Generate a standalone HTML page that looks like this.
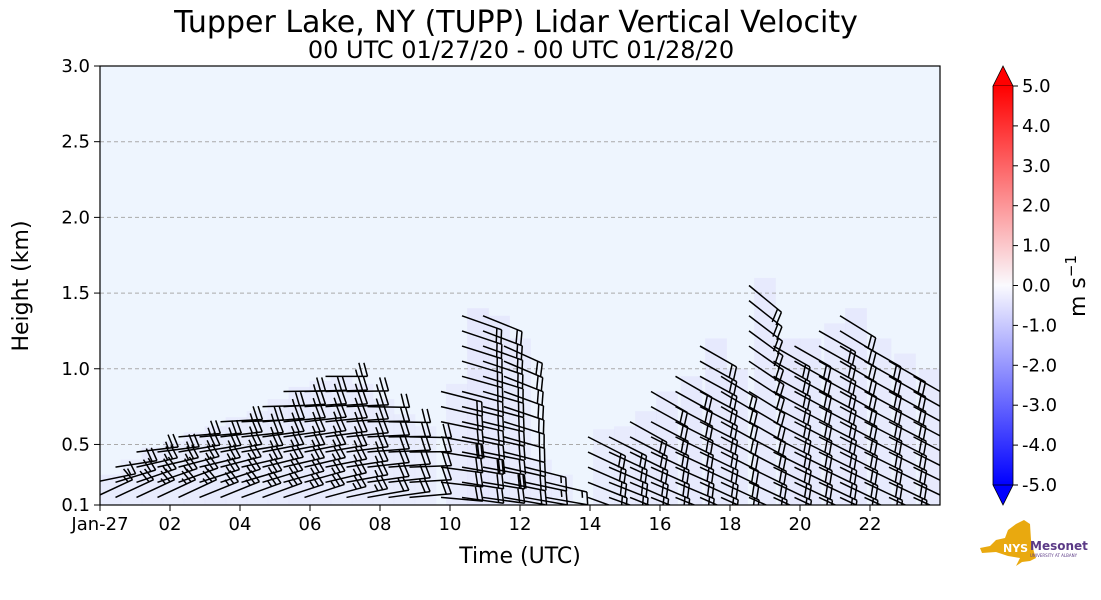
<!DOCTYPE html>
<html><head><meta charset="utf-8">
<style>
body{margin:0;background:#fff;}
svg{display:block;font-family:"DejaVu Sans","Liberation Sans",sans-serif;}
</style></head>
<body>
<svg id="chart" width="1101" height="600" viewBox="0 0 1101 600" xmlns="http://www.w3.org/2000/svg">
<defs>
<linearGradient id="cbar" x1="0" y1="0" x2="0" y2="1">
<stop offset="0" stop-color="#ff0000"/><stop offset="0.5" stop-color="#fafafe"/><stop offset="1" stop-color="#0000ff"/>
</linearGradient>
<clipPath id="plotclip"><rect x="100" y="66" width="840" height="439"/></clipPath>
</defs>
<text x="516" y="32" font-size="30" text-anchor="middle">Tupper Lake, NY (TUPP) Lidar Vertical Velocity</text>
<text x="521" y="58" font-size="24" text-anchor="middle">00 UTC 01/27/20 - 00 UTC 01/28/20</text>
<rect x="100" y="66" width="840" height="439" fill="#eef5fe"/>
<g id="shade" clip-path="url(#plotclip)"></g>
<g id="grid"></g>
<g id="barbs" clip-path="url(#plotclip)"></g>
<rect x="100" y="66" width="840" height="439" fill="none" stroke="#000" stroke-width="1.2"/>
<g id="yaxis"></g>
<g id="xaxis"></g>
<text transform="translate(28,286) rotate(-90)" font-size="22" text-anchor="middle">Height (km)</text>
<text x="520" y="563" font-size="22" text-anchor="middle">Time (UTC)</text>
<g>
<polygon points="993,86 1003,66 1013,86" fill="#ff0000" stroke="#000" stroke-width="0.8"/>
<rect x="993" y="86" width="20" height="399" fill="url(#cbar)"/>
<polygon points="993,485 1003,505 1013,485" fill="#0000ff" stroke="#000" stroke-width="0.8"/>
<line x1="993" y1="86" x2="993" y2="485" stroke="#000" stroke-width="0.8"/>
<line x1="1013" y1="86" x2="1013" y2="485" stroke="#000" stroke-width="0.8"/>
<g id="cticks"></g>
<text transform="translate(1085,286) rotate(-90)" font-size="22" text-anchor="middle">m s<tspan dy="-9" font-size="15">−1</tspan></text>
</g>
<g>
<polygon points="980,548 990,546 996,540 1005,538 1008,530 1016,524 1024,520 1030,524 1031,540 1034,552 1036,558 1030,561 1022,562 1016,566 1020,558 1008,556 996,552 982,553" fill="#e9a90f"/>
<text x="1003" y="552" font-size="11" font-weight="bold" fill="#fff">NYS</text>
<text x="1030" y="550" font-size="12" font-weight="bold" fill="#5b3a86">Mesonet</text>
<text x="1030" y="557" font-size="4" fill="#5b3a86">UNIVERSITY AT ALBANY</text>
</g>
</svg>
<script>
// ---- data ----
const yTicks = [0.1, 0.5, 1.0, 1.5, 2.0, 2.5, 3.0];
const xTickHours = [0, 2, 4, 6, 8, 10, 12, 14, 16, 18, 20, 22];
const xTickLabels = ["Jan-27","02","04","06","08","10","12","14","16","18","20","22"];
const cbTicks = [5,4,3,2,1,0,-1,-2,-3,-4,-5];
// barb columns (hours UTC), top heights (km), staff angle low/high (deg screen), speed (kt)
const colTimes = [0.3,0.9,1.5,2.1,2.7,3.3,3.9,4.5,5.1,5.7,6.3,6.9,7.5,8.1,8.7,9.3,10.2,10.8,11.4,12.0,12.6,13.2,14.4,15.0,15.6,16.2,16.9,17.6,18.2,19.0,19.7,20.3,21.0,21.6,22.3,23.0,23.7];
const colTops  = [0.30,0.40,0.48,0.52,0.58,0.62,0.68,0.72,0.80,0.88,0.92,0.95,0.90,0.80,0.70,0.62,0.90,1.40,1.35,1.20,0.40,0.30,0.60,0.62,0.72,0.85,0.95,1.20,1.00,1.60,1.20,1.20,1.30,1.40,1.20,1.10,1.00];
const angLow   = [-25,-25,-25,-25,-25,-22,-22,-20,-20,-18,-18,-15,-12,-10,-8,-5,5,8,8,10,10,10,20,20,22,22,22,24,24,24,25,25,25,25,25,25,25];
const angHigh  = [-5,-5,-5,-3,-3,-2,-2,0,0,0,0,0,0,2,2,2,15,20,22,25,15,15,28,28,30,30,30,30,32,40,30,30,30,32,30,30,30];
const colSpeed = [15,20,25,25,25,25,25,25,25,25,25,25,25,20,20,20,20,20,20,20,15,15,20,20,20,20,20,20,20,20,20,20,20,20,20,20,20];
const colShade = [0.05,0.08,0.1,0.08,0.1,0.12,0.1,0.08,0.1,0.12,0.1,0.08,0.06,0.05,0.05,0.04,0.1,0.2,0.18,0.1,0.06,0.05,0.08,0.1,0.12,0.14,0.16,0.18,0.14,0.12,0.2,0.16,0.14,0.18,0.12,0.14,0.12];

// ---- axes ----
const X0=100, X1=940, Y0=505, Y1=66;
function xs(h){return X0 + h*(X1-X0)/24;}
function ys(k){return Y0 - (k-0.1)*(Y0-Y1)/2.9;}
const NS="http://www.w3.org/2000/svg";
function mk(tag, attrs, parent){const e=document.createElementNS(NS,tag);for(const k in attrs)e.setAttribute(k,attrs[k]);parent.appendChild(e);return e;}

const yax=document.getElementById('yaxis'), grid=document.getElementById('grid'), xax=document.getElementById('xaxis');
yTicks.forEach(v=>{
  const y=ys(v);
  mk('line',{x1:94,y1:y,x2:100,y2:y,stroke:'#000','stroke-width':1},yax);
  const t=mk('text',{x:90,y:y+6,'font-size':18,'text-anchor':'end'},yax);
  t.textContent=v.toFixed(1);
  
  
  if(v>0.1 && v<3.0){
    const g=mk('line',{x1:100,y1:y,x2:940,y2:y,stroke:'#aaa','stroke-width':1,'stroke-dasharray':'4,3'},grid);
    
    
  }
});
xTickHours.forEach((h,i)=>{
  const x=xs(h);
  mk('line',{x1:x,y1:505,x2:x,y2:511,stroke:'#000','stroke-width':1},xax);
  const t=mk('text',{x:x,y:530,'font-size':18,'text-anchor':'middle'},xax);
  t.textContent=xTickLabels[i];
  
  
});
const ct=document.getElementById('cticks');
cbTicks.forEach(v=>{
  const y=86+(5-v)*(399/10);
  mk('line',{x1:1013,y1:y,x2:1018,y2:y,stroke:'#000','stroke-width':1},ct);
  const t=mk('text',{x:1022,y:y+6,'font-size':18},ct);
  t.textContent=v.toFixed(1);
  
  
});

// ---- shading ----
const sh=document.getElementById('shade');
colTimes.forEach((h,i)=>{
  const w=xs(0.62)-xs(0);
  const x=xs(h)-w/2, top=ys(colTops[i]);
  const a=colShade[i];
  const r=mk('rect',{x:x,y:top,width:w,height:Y0-top,fill:'rgb(225,225,252)','fill-opacity':(0.35+a*1.6).toFixed(2)},sh);
  
  
});

// ---- barbs ----
const bg=document.getElementById('barbs');
const L=42, FL=14, SP=5;
colTimes.forEach((h,i)=>{
  const top=colTops[i];
  for(let k=0.15;k<=top+1e-6;k+=0.1){
    const f=top>0.15?(k-0.15)/(top-0.15):1;
    const angDeg=angLow[i]+(angHigh[i]-angLow[i])*f;
    const ang=angDeg*Math.PI/180;
    const sx=xs(h)-16, sy=ys(k);
    const dx=Math.cos(ang), dy=Math.sin(ang);
    const tx=sx+L*dx, ty=sy+L*dy;
    const g=mk('g',{stroke:'#000','stroke-width':1.5,fill:'none'},bg);
    
    
    mk('line',{x1:sx,y1:sy,x2:tx,y2:ty},g);
    const fa=ang+(angDeg<10?-105:73)*Math.PI/180;
    const fx=Math.cos(fa), fy=Math.sin(fa);
    let spd=colSpeed[i], p=0;
    while(spd>=10){
      const bx=tx-p*SP*dx, by=ty-p*SP*dy;
      mk('line',{x1:bx,y1:by,x2:bx+FL*fx,y2:by+FL*fy},g);
      spd-=10;p++;
    }
    if(spd>=5){
      if(p==0)p=1;
      const bx=tx-p*SP*dx, by=ty-p*SP*dy;
      mk('line',{x1:bx,y1:by,x2:bx+FL*0.5*fx,y2:by+FL*0.5*fy},g);
    }
  }
});
</script>
</body></html>
